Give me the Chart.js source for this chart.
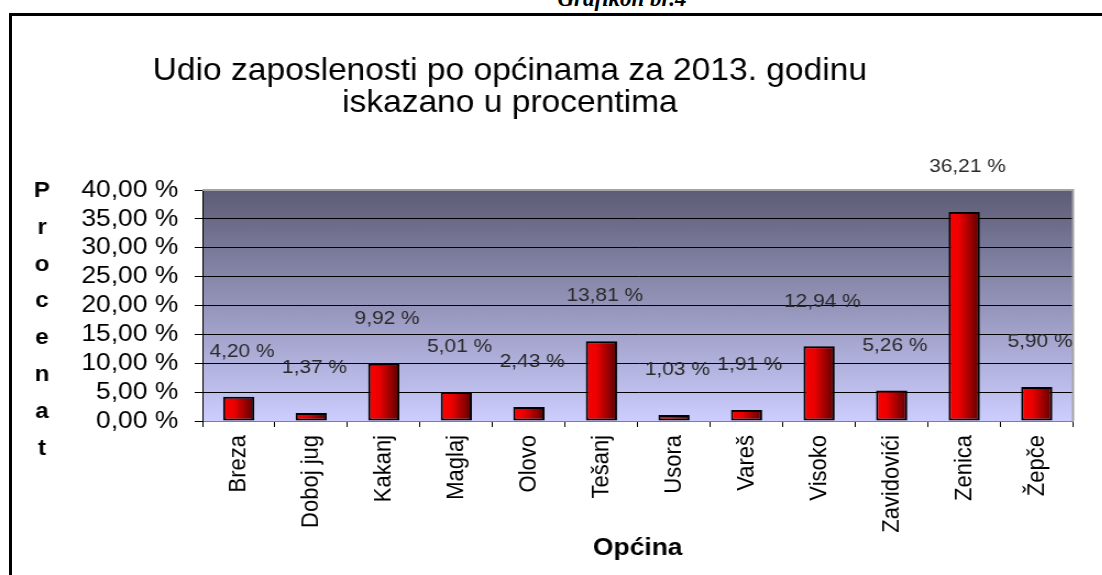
<!DOCTYPE html>
<html>
<head>
<meta charset="utf-8">
<script src="https://cdn.jsdelivr.net/npm/chart.js@4"></script>
<style>
  html, body { margin: 0; padding: 0; background: #fff; overflow: hidden; }
  #wrap { position: relative; width: 1102px; height: 575px; }
  #caption { position: absolute; left: 0; width: 1244px; top: -13px; text-align: center;
    font: italic bold 23px "Liberation Serif", "Times New Roman", serif; line-height: 1; color: #000; }
  #frame { position: absolute; left: 9px; top: 13px; width: 1200px; height: 700px; border: 3px solid #000; box-sizing: border-box; }
  canvas { position: absolute; left: 0; top: 0; transform: scaleX(1.1); transform-origin: 0 0; }
</style>
</head>
<body>
<div id="wrap">
  <div id="caption">Grafikon br.4</div>
  <div id="frame"></div>
  <canvas id="c" width="1002" height="575"></canvas>
</div>
<script>
const categories = ['Breza', 'Doboj jug', 'Kakanj', 'Maglaj', 'Olovo', 'Tešanj', 'Usora', 'Vareš', 'Visoko', 'Zavidovići', 'Zenica', 'Žepče'];
const shares = [4.20, 1.37, 9.92, 5.01, 2.43, 13.81, 1.03, 1.91, 12.94, 5.26, 36.21, 5.90];
const yTicks = [0, 5, 10, 15, 20, 25, 30, 35, 40];
const titleLines = ['Udio zaposlenosti po općinama za 2013. godinu', 'iskazano u procentima'];
const yTitle = 'Procenat';
const xTitle = 'Općina';

const FONT = "'Liberation Sans', Arial, sans-serif";
const fmt = v => v.toFixed(2).replace('.', ',') + ' %';

const BAR_PCT = 0.43;

function barGradient(ctx) {
  const chart = ctx.chart;
  const xs = chart.scales && chart.scales.x;
  if (!xs || ctx.dataIndex === undefined) return '#e00000';
  const cx = xs.getPixelForValue(ctx.dataIndex);
  const half = (xs.width / categories.length) * BAR_PCT / 2;
  if (!Number.isFinite(cx) || !Number.isFinite(half) || half <= 0) return '#e00000';
  const g = chart.ctx.createLinearGradient(cx - half, 0, cx + half, 0);
  g.addColorStop(0, '#ff0000');
  g.addColorStop(0.35, '#ea0000');
  g.addColorStop(1, '#5a0000');
  return g;
}

const decor = {
  id: 'decor',
  beforeDraw(chart) {
    const { ctx, chartArea: a } = chart;
    const g = ctx.createLinearGradient(0, a.top, 0, a.bottom);
    g.addColorStop(0, '#5c5c76');
    g.addColorStop(1, '#cdcdff');
    ctx.save();
    ctx.fillStyle = g;
    ctx.fillRect(a.left, a.top, a.right - a.left, a.bottom - a.top);
    ctx.restore();
  },
  beforeDatasetsDraw(chart) {
    const { ctx, chartArea: a } = chart;
    ctx.save();
    ctx.strokeStyle = '#a4a4a4';
    ctx.lineWidth = 2;
    ctx.beginPath();
    ctx.moveTo(a.left, a.top);
    ctx.lineTo(a.right, a.top);
    ctx.lineTo(a.right, a.bottom);
    ctx.stroke();
    ctx.restore();
  },
  afterDraw(chart) {
    const { ctx, chartArea: a } = chart;
    ctx.save();
    ctx.textAlign = 'center';
    ctx.textBaseline = 'middle';
    // title
    ctx.font = '30.5px ' + FONT;
    ctx.fillStyle = '#000';
    titleLines.forEach((t, i) => ctx.fillText(t, 463.5, 72 + i * 31.5));
    // data labels
    const meta = chart.getDatasetMeta(0);
    ctx.font = '19px ' + FONT;
    ctx.fillStyle = '#2a2a2a';
    meta.data.forEach((bar, i) => {
      ctx.fillText(fmt(shares[i]), bar.x + 3, bar.y - 45);
    });
    // y title as stacked letters
    ctx.font = 'bold 22px ' + FONT;
    ctx.fillStyle = '#000';
    Array.from(yTitle).forEach((ch, i) => {
      ctx.fillText(ch, 38.2, 191 + i * 36.8);
    });
    // x title
    ctx.font = 'bold 24px ' + FONT;
    ctx.fillText(xTitle, (a.left + a.right) / 2, a.bottom + 127);
    ctx.restore();
  }
};

new Chart(document.getElementById('c'), {
  type: 'bar',
  data: {
    labels: categories,
    datasets: [{
      data: shares,
      backgroundColor: barGradient,
      borderColor: '#000',
      borderWidth: 2,
      borderSkipped: false,
      barPercentage: BAR_PCT,
      categoryPercentage: 1
    }]
  },
  options: {
    responsive: false,
    animation: false,
    layout: { padding: { left: 0, right: 26.5, top: 190, bottom: 0 } },
    plugins: {
      legend: { display: false },
      tooltip: { enabled: false },
      title: { display: false }
    },
    scales: {
      x: {
        grid: { offset: true, drawOnChartArea: false, drawTicks: true, tickLength: 6, color: '#000', tickColor: '#000' },
        border: { color: '#808080', width: 1 },
        ticks: { color: '#000', font: { family: FONT, size: 22 }, minRotation: 90, maxRotation: 90, padding: 8, autoSkip: false },
        afterFit(s) { s.height = 154; }
      },
      y: {
        min: 0,
        max: 40,
        afterBuildTicks(s) { s.ticks = yTicks.map(v => ({ value: v })); },
        grid: {
          color: c => (c.tick && c.tick.value === 40) ? '#a4a4a4' : (c.tick && c.tick.value === 0 ? '#808080' : '#000'),
          lineWidth: 1,
          tickLength: 7,
          tickColor: '#000'
        },
        border: { color: '#000', width: 1 },
        ticks: { color: '#000', font: { family: FONT, size: 24 }, padding: 15, autoSkip: false, callback: v => fmt(v) },
        afterFit(s) { s.width = 184; }
      }
    }
  },
  plugins: [decor]
});
</script>
</body>
</html>
